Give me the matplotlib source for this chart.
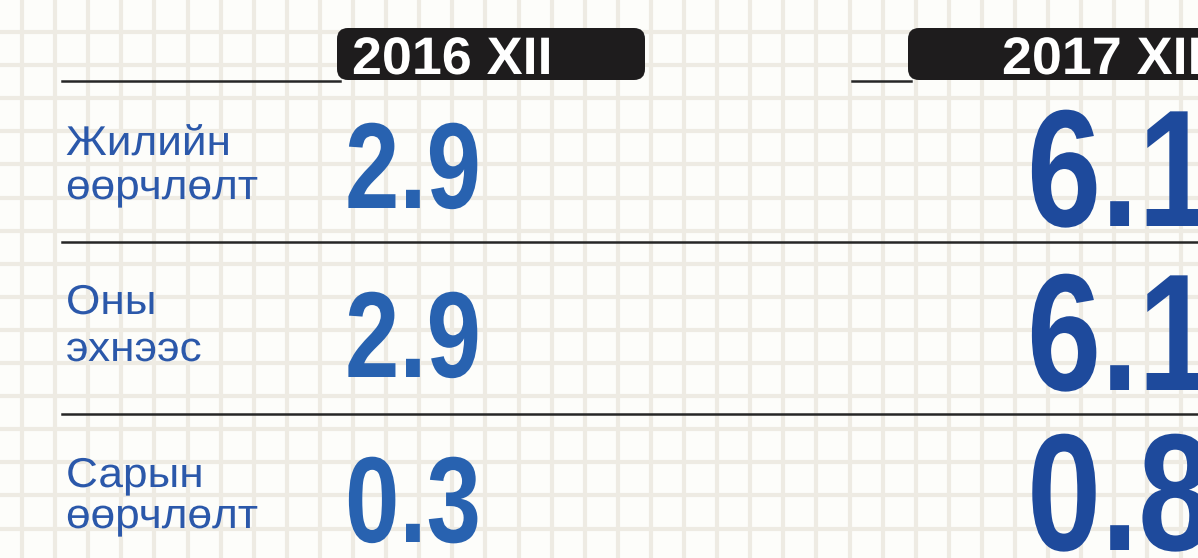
import numpy as np
import matplotlib
matplotlib.use('Agg')
import matplotlib.pyplot as plt
from matplotlib import font_manager as fm
from matplotlib.patches import FancyBboxPatch
from matplotlib.patheffects import AbstractPathEffect
from matplotlib.transforms import Affine2D

# data
periods = ['2016 XII', '2017 XII']
row_labels = ['Жилийн\nөөрчлөлт', 'Оны\nэхнээс', 'Сарын\nөөрчлөлт']
vals_2016 = [2.9, 2.9, 0.3]
vals_2017 = [6.1, 6.1, 0.8]


def pick(names):
    for n in names:
        try:
            fm.findfont(fm.FontProperties(family=n, weight='bold'), fallback_to_default=False)
            return n
        except ValueError:
            pass
    return 'DejaVu Sans'


class Squeeze(AbstractPathEffect):
    # narrow the glyphs around the text origin (no condensed font installed)
    def __init__(self, sx):
        super().__init__()
        self.sx = sx

    def draw_path(self, renderer, gc, tpath, affine, rgbFace=None):
        renderer.draw_path(gc, tpath, Affine2D().scale(self.sx, 1.0) + affine, rgbFace)


sans = pick(['Liberation Sans', 'Arial', 'DejaVu Sans'])

W, H = 1198, 558
fig = plt.figure(figsize=(W / 100, H / 100), dpi=100)
fig.patch.set_facecolor('#FDFDFA')
ax = fig.add_axes([0, 0, 1, 1])
ax.set_xlim(0, W)
ax.set_ylim(H, 0)
ax.axis('off')

# squared paper background
step = 33.1
for x in np.arange(22, W + step, step):
    ax.axvline(x, color='#EEEBE3', lw=3.0, zorder=0)
for y in np.arange(32 - step, H + step, step):
    ax.axhline(y, color='#EEEBE3', lw=3.0, zorder=0)

# header boxes and rules
box_x = [338, 909]
box_w = [306, 330]
text_x = [352, 1002]
rule_x = [(62, 340), (852, 911)]
for i, p in enumerate(periods):
    ax.add_patch(FancyBboxPatch((box_x[i], 29), box_w[i], 50,
                                boxstyle='round,pad=1,rounding_size=11',
                                fc='#1E1C1D', ec='none', zorder=2))
    ax.plot(rule_x[i], [81, 81], color='#262626', lw=1.8, zorder=2)
    ax.text(text_x[i], 74, p, color='white', fontsize=38, fontweight='bold',
            family=sans, ha='left', va='baseline', zorder=3,
            path_effects=[Squeeze(1.02)])

# row separators
for y in [242, 414]:
    ax.plot([62, W], [y, y], color='#262626', lw=1.8, zorder=2)

label_base = [(155, 199), (314, 361), (487, 528)]
base_2016 = [208, 377, 542]
base_2017 = [226, 390, 550]
for i, lab in enumerate(row_labels):
    for line, yb in zip(lab.split('\n'), label_base[i]):
        ax.text(66, yb, line, color='#2B58AA', fontsize=30, family=sans,
                ha='left', va='baseline', zorder=3,
                path_effects=[Squeeze(1.06)])
    ax.text(345, base_2016[i], f'{vals_2016[i]:.1f}', color='#2862B0',
            fontsize=88, fontweight='bold', family=sans,
            ha='left', va='baseline', zorder=3,
            path_effects=[Squeeze(0.8)])
    ax.text(1027, base_2017[i], f'{vals_2017[i]:.1f}', color='#1E4A9C',
            fontsize=120, fontweight='bold', family=sans,
            ha='left', va='baseline', zorder=3,
            path_effects=[Squeeze(0.8)])

fig.savefig('out.png', dpi=100, facecolor=fig.get_facecolor())
